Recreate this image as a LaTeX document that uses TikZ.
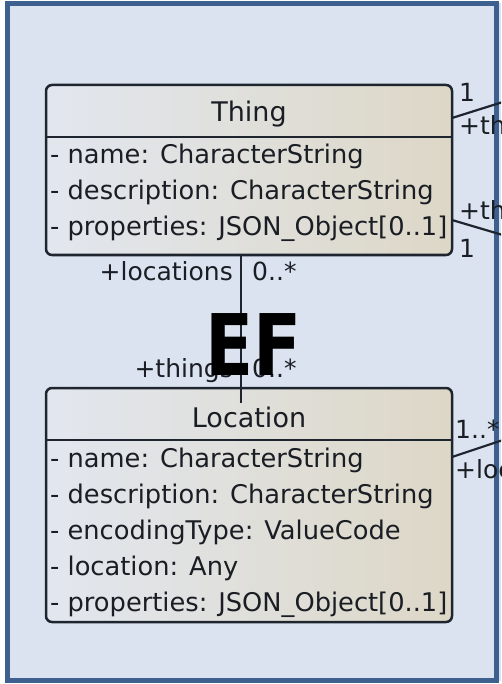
\documentclass[tikz,border=0pt]{standalone}
\usepackage{fontspec}
\setmainfont{DejaVu Sans}
\definecolor{bgblue}{RGB}{218,227,239}
\definecolor{framecol}{RGB}{61,96,143}
\definecolor{boxleft}{RGB}{226,231,239}
\definecolor{boxright}{RGB}{221,215,198}
\definecolor{boxline}{RGB}{30,37,47}
\definecolor{txt}{RGB}{26,30,36}
\begin{document}
\begin{tikzpicture}[x=1pt,y=-1pt,
  umlbox/.style={draw=boxline, line width=2.5pt, rounded corners=6pt,
    left color=boxleft, right color=boxright, inner sep=0pt, minimum width=406pt},
  divider/.style={draw=boxline, line width=2.5pt},
  conn/.style={draw=boxline, line width=2.2pt},
  head/.style={font=\fontsize{27}{32}\selectfont, text=txt, inner sep=0pt, anchor=base},
  attr/.style={font=\fontsize{25.7}{30}\selectfont, text=txt, inner sep=0pt, anchor=base west},
  lbl/.style={font=\fontsize{25}{30}\selectfont, text=txt, inner sep=0pt},
  big/.style={font=\bfseries\fontsize{85}{90}\selectfont, text=black, inner sep=0pt, anchor=base, xscale=0.83}
]
\useasboundingbox (0,0) rectangle (501,684);
\clip (0,0) rectangle (501,684);
\fill[white] (0,0) rectangle (501,684);
\fill[bgblue] (7.5,3.5) rectangle (501,680.5);
\draw[framecol, line width=5pt] (7.5,3.5) rectangle (496.5,680.5);

% Thing class
\node[umlbox, minimum height=170pt] (thing) at (249,170) {};
\draw[divider] (thing.west |- 0,137) -- (thing.east |- 0,137);
\node[head] (thingname) at (249,122) {Thing};
\node[attr] (t1) at (50,164) {- name: CharacterString};
\node[attr] (t2) at (50,200) {- description: CharacterString};
\node[attr] (t3) at (50,236) {- properties: JSON\_Object[0..1]};

% Location class
\node[umlbox, minimum height=234pt] (loc) at (249,505) {};
\draw[divider] (loc.west |- 0,440) -- (loc.east |- 0,440);
\node[head] (locname) at (249,427) {Location};
\node[attr] (l1) at (50,467) {- name: CharacterString};
\node[attr] (l2) at (50,503) {- description: CharacterString};
\node[attr] (l3) at (50,539) {- encodingType: ValueCode};
\node[attr] (l4) at (50,575) {- location: Any};
\node[attr] (l5) at (50,611) {- properties: JSON\_Object[0..1]};

% connector Thing -- Location
\coordinate (ctop) at (241,255);
\coordinate (cbot) at (241,403);
\draw[conn] (ctop) -- (cbot);
\node[lbl, anchor=base east] (r1) at (233,280) {+locations};
\node[lbl, anchor=base west] (m1) at (252,280) {0..*};
\node[lbl, anchor=base east] (r2) at (233,377) {+things};
\node[lbl, anchor=base west] (m2) at (252,377) {0..*};

% connectors leaving to the right
\coordinate (a1) at (452,118);
\coordinate (a1e) at (506,101);
\coordinate (a2) at (452,220);
\coordinate (a2e) at (506,236);
\coordinate (a3) at (452,457);
\coordinate (a3e) at (506,439);
\draw[conn] (a1) -- (a1e);
\draw[conn] (a2) -- (a2e);
\draw[conn] (a3) -- (a3e);
\node[lbl, anchor=base west] (a1m) at (459,102) {1};
\node[lbl, anchor=base west] (a1r) at (459,135) {+things};
\node[lbl, anchor=base west] (a2r) at (459,220) {+things};
\node[lbl, anchor=base west] (a2m) at (459,258) {1};
\node[lbl, anchor=base west] (a3m) at (455,438) {1..*};
\node[lbl, anchor=base west] (a3r) at (455,478) {+locations};

% overlay text
\node[big] (ef) at (254,375) {EF};
\end{tikzpicture}
\end{document}
